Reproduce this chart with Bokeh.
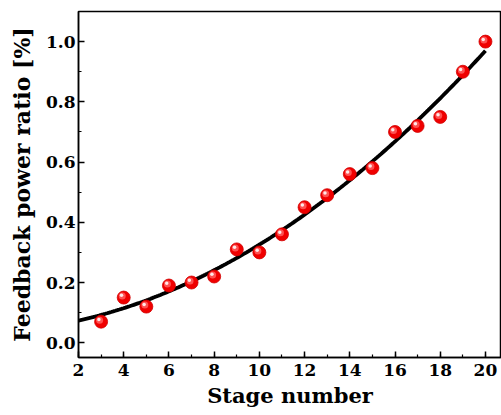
import numpy as np
from bokeh.plotting import figure
from bokeh.models import Range1d, FixedTicker, CustomJSTickFormatter
from bokeh.transform import dodge
from bokeh.embed import file_html
from bokeh.resources import INLINE

stage = [3, 4, 5, 6, 7, 8, 9, 10, 11, 12, 13, 14, 15, 16, 17, 18, 19, 20]
ratio = [0.07, 0.15, 0.12, 0.19, 0.20, 0.22, 0.31, 0.30, 0.36, 0.45,
         0.49, 0.56, 0.58, 0.70, 0.72, 0.75, 0.90, 1.00]
x_ticks = [2, 4, 6, 8, 10, 12, 14, 16, 18, 20]
y_ticks = [0.0, 0.2, 0.4, 0.6, 0.8, 1.0]

# quadratic fit of the data
coef = np.polyfit(stage, ratio, 2)
fx = np.linspace(2, 20, 200)
fy = np.polyval(coef, fx)

W, H = 501, 415
L, R, T, B = 78, 0, 11, 58
xr = Range1d(2, 20.71)
yr = Range1d(-0.049, 1.1)

p = figure(width=W, height=H, x_range=xr, y_range=yr, output_backend="svg",
           toolbar_location=None, min_border_left=L, min_border_right=R,
           min_border_top=T, min_border_bottom=B)
p.grid.visible = False
p.outline_line_color = "black"
p.outline_line_width = 1.5
p.background_fill_color = "white"
p.border_fill_color = "white"

font = "DejaVu Serif"
for ax in (p.xaxis[0], p.yaxis[0]):
    ax.axis_line_width = 1.5
    ax.major_tick_line_width = 1.5
    ax.minor_tick_line_width = 1.2
    ax.major_tick_in = 6
    ax.major_tick_out = 0
    ax.minor_tick_in = 3
    ax.minor_tick_out = 0
    ax.major_label_text_font = font
    ax.major_label_text_font_style = "bold"
    ax.major_label_text_font_size = "17px"
    ax.major_label_text_color = "black"
    ax.axis_label_text_font = font
    ax.axis_label_text_font_style = "bold"
    ax.axis_label_text_color = "black"

p.xaxis.axis_label_text_font_size = "21px"
p.yaxis.axis_label_text_font_size = "22px"
p.xaxis.ticker = FixedTicker(ticks=x_ticks, minor_ticks=list(range(2, 21)))
p.yaxis.ticker = FixedTicker(ticks=y_ticks, minor_ticks=[round(v * 0.1, 1) for v in range(0, 11)])
p.yaxis.formatter = CustomJSTickFormatter(code="return tick.toFixed(1);")
p.xaxis.axis_label = "Stage number"
p.yaxis.axis_label = "Feedback power ratio [%]"
p.xaxis.major_label_standoff = 6
p.yaxis.major_label_standoff = 3
p.xaxis.axis_label_standoff = 4
p.yaxis.axis_label_standoff = 8

p.line(fx, fy, line_color="black", line_width=3.8)

src = dict(x=stage, y=ratio)
px_x = (xr.end - xr.start) / (W - L - R)
px_y = (yr.end - yr.start) / (H - T - B)
p.scatter("x", "y", source=src, size=13, fill_color="#f00000", line_color="#d00000", line_width=0.8)
p.scatter(dodge("x", -1.5 * px_x, range=xr), dodge("y", 1.5 * px_y, range=yr), source=src,
          size=7, fill_color="#ff5a5a", line_color=None, fill_alpha=0.9)
p.scatter(dodge("x", -2.2 * px_x, range=xr), dodge("y", 2.2 * px_y, range=yr), source=src,
          size=3.5, fill_color="#ffe8e8", line_color=None)

open("out.html", "w").write(file_html(p, INLINE))
